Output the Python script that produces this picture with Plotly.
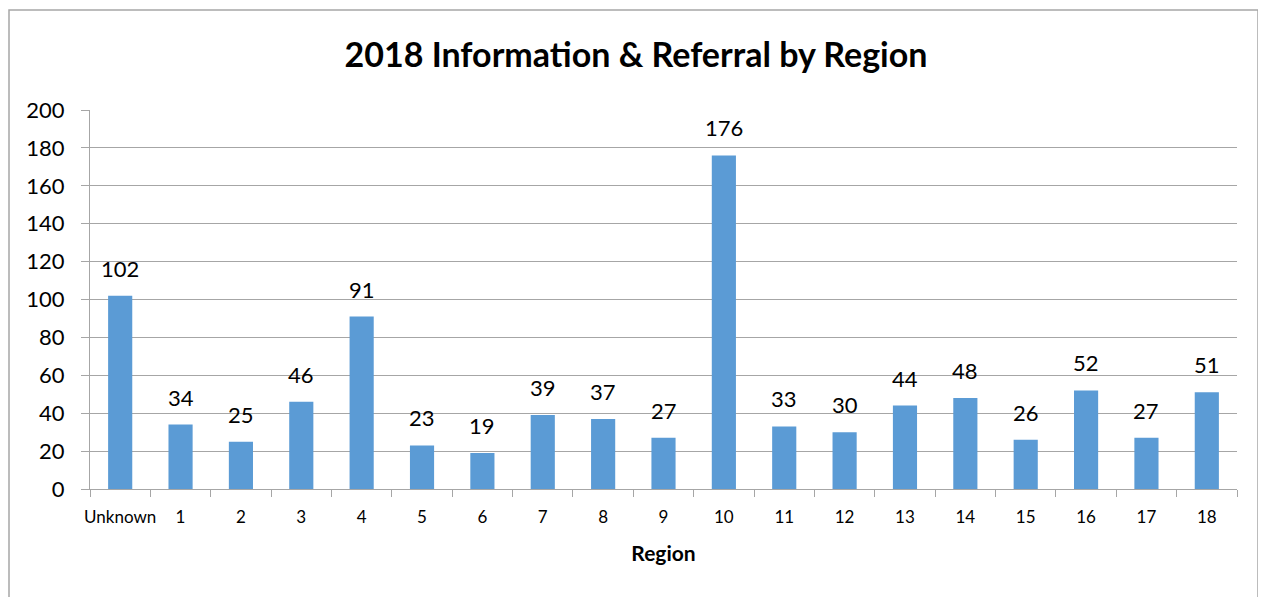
import plotly.graph_objects as go

categories = ["Unknown", "1", "2", "3", "4", "5", "6", "7", "8", "9", "10",
              "11", "12", "13", "14", "15", "16", "17", "18"]
values = [102, 34, 25, 46, 91, 23, 19, 39, 37, 27, 176, 33, 30, 44, 48, 26, 52, 27, 51]
y_ticks = [0, 20, 40, 60, 80, 100, 120, 140, 160, 180, 200]

FONT = "Lato, Carlito, Calibri, sans-serif"
OFF = 8  # default body margin of the page
W, H = 1266 - OFF, 597 - OFF
L, R, T, B = 82, 29, 102, 108
pw, ph = W - L - R, H - T - B

def px_x(x):  # page x -> paper
    return (x - OFF - L) / pw

def px_y(y):  # page y -> paper
    return (H - B - (y - OFF)) / ph

fig = go.Figure(go.Bar(
    x=categories, y=values,
    marker=dict(color="#5B9BD5", line=dict(width=0)),
    width=0.4,
    cliponaxis=False,
))

for c, v in zip(categories, values):
    fig.add_annotation(x=c, y=v, text=str(v), showarrow=False,
                       yanchor="bottom", yshift=12,
                       font=dict(family=FONT, size=22, color="#000000"))

fig.update_layout(
    width=W, height=H,
    margin=dict(l=L, r=R, t=T, b=B, autoexpand=False),
    paper_bgcolor="white", plot_bgcolor="white",
    title=dict(text="<b>2018 Information & Referral by Region</b>",
               x=(636 - OFF) / W, xref="container", xanchor="center",
               y=1 - (55 - OFF) / H, yref="container", yanchor="middle",
               font=dict(family=FONT, size=34, color="#000000")),
    showlegend=False,
    xaxis=dict(
        type="category", automargin=False, tickangle=0,
        showline=True, linecolor="#a6a6a6", linewidth=1,
        ticks="outside", tickson="boundaries", ticklen=7, tickcolor="#a6a6a6",
        ticklabelstandoff=13,
        tickfont=dict(family=FONT, size=17, color="#000000"),
        showgrid=False,
        title=dict(text="<b>Region</b>", font=dict(family=FONT, size=21, color="#000000"),
                   standoff=19),
    ),
    yaxis=dict(
        range=[0, 200], tickvals=y_ticks, automargin=False,
        showline=True, linecolor="#a6a6a6", linewidth=1,
        ticks="outside", ticklen=8, tickcolor="#a6a6a6",
        ticklabelstandoff=12,
        showgrid=True, gridcolor="#a6a6a6", gridwidth=1,
        zeroline=False,
        tickfont=dict(family=FONT, size=22, color="#000000"),
    ),
    shapes=[dict(type="rect", xref="paper", yref="paper",
                 x0=px_x(9), x1=px_x(1258), y0=px_y(603), y1=px_y(10),
                 line=dict(color="#a6a6a6", width=1.5), fillcolor="rgba(0,0,0,0)",
                 layer="below")],
)

fig.write_html("out.html")
